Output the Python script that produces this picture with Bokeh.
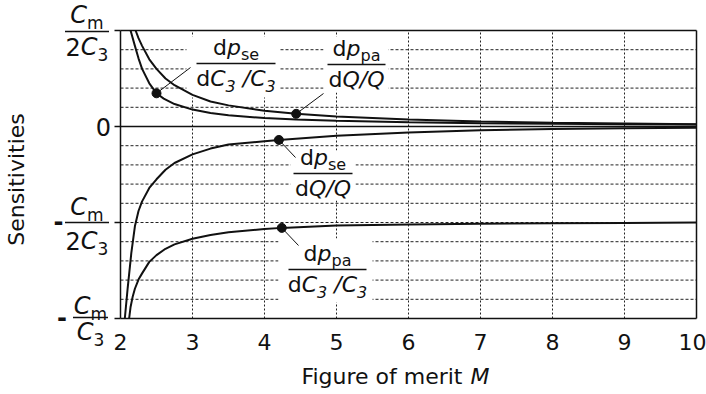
import math
from bokeh.plotting import figure
from bokeh.models import Range1d, FixedTicker, Label, Arrow
from bokeh.embed import file_html
from bokeh.resources import INLINE

# ---------------- data ----------------
# sensitivities in units of Cm/C3 versus figure of merit M
m_se_c3 = [2.14, 2.2, 2.25, 2.3, 2.4, 2.5, 2.6, 2.75, 3.0, 3.25, 3.5, 4.0, 4.44, 5.0, 6.0, 7.0, 8.0, 9.0, 10.0]
s_se_c3 = [0.50, 0.42, 0.355, 0.30, 0.225, 0.173, 0.145, 0.117, 0.088, 0.070, 0.058, 0.044, 0.037, 0.030, 0.022, 0.017, 0.014, 0.012, 0.011]

m_pa_q = [2.21, 2.25, 2.3, 2.4, 2.5, 2.625, 2.75, 3.0, 3.25, 3.5, 4.0, 4.44, 5.0, 6.0, 7.0, 8.0, 9.0, 10.0]
s_pa_q = [0.50, 0.46, 0.42, 0.35, 0.30, 0.25, 0.215, 0.165, 0.13, 0.11, 0.082, 0.066, 0.052, 0.036, 0.026, 0.019, 0.015, 0.012]

m_se_q = [2.06, 2.1, 2.15, 2.2, 2.25, 2.3, 2.4, 2.5, 2.625, 2.75, 3.0, 3.25, 3.5, 4.0, 4.2, 5.0, 6.0, 7.0, 8.0, 9.0, 10.0]
s_se_q = [-1.0, -0.84, -0.66, -0.52, -0.44, -0.39, -0.32, -0.275, -0.225, -0.19, -0.145, -0.115, -0.094, -0.077, -0.070, -0.048, -0.031, -0.020, -0.013, -0.009, -0.006]

m_pa_c3 = [2.12, 2.14, 2.17, 2.2, 2.25, 2.3, 2.4, 2.5, 2.625, 2.75, 3.0, 3.25, 3.5, 4.0, 4.24, 5.0, 6.0, 7.0, 8.0, 9.0, 10.0]
s_pa_c3 = [-1.0, -0.94, -0.885, -0.845, -0.797, -0.765, -0.705, -0.67, -0.637, -0.614, -0.585, -0.565, -0.551, -0.534, -0.528, -0.516, -0.510, -0.507, -0.504, -0.502, -0.500]

# M values at which the labelled points sit
dot_m = {"se_c3": 2.5, "pa_q": 4.44, "se_q": 4.2, "pa_c3": 4.24}

x_min, x_max = 2, 10
y_min, y_max = -1.0, 0.5
x_ticks = [2, 3, 4, 5, 6, 7, 8, 9, 10]
y_ticks = [-1.0, -0.5, 0.0, 0.5]
y_grid = [-0.9, -0.8, -0.7, -0.6, -0.5, -0.4, -0.3, -0.2, -0.1, 0.1, 0.2, 0.3, 0.4]
x_title = "Figure of merit"
x_title_var = "M"
y_title = "Sensitivities"

# ---------------- geometry / styles ----------------
FONT = "DejaVu Sans"
SIZE = 22
SUB = 16
TSIZE = 24          # y tick fractions
TSUB = 17
SUB_DROP = 5
INK = "#111111"
GRID = "#222222"
W, H = 706, 394
# plot box in page pixels: M=2 at x=120, 72 px per unit; value 0 at y=126, 192 px per unit
PX0, PXS, PY0, PYS = 120, 72.0, 126, 192.0

def X(px):          # page px -> M
    return x_min + (px - PX0) / PXS

def Y(py):          # page px -> value
    return (PY0 - py) / PYS

p = figure(width=W, height=H, x_range=Range1d(X(0), X(W)), y_range=Range1d(Y(H), Y(0)),
           output_backend="svg", toolbar_location=None,
           min_border_left=0, min_border_right=0, min_border_top=0, min_border_bottom=0)
p.background_fill_color = "white"
p.border_fill_color = "white"
p.outline_line_color = None
p.xgrid.visible = False
p.ygrid.visible = False

# axes drawn at the box edges
p.xaxis.fixed_location = y_min
p.xaxis.bounds = (x_min, x_max)
p.xaxis.ticker = FixedTicker(ticks=x_ticks)
p.xaxis.major_tick_out = 0
p.xaxis.major_tick_in = 0
p.xaxis.minor_tick_out = 0
p.xaxis.minor_tick_in = 0
p.xaxis.axis_line_color = INK
p.xaxis.axis_line_width = 1.5
p.xaxis.major_label_text_font = FONT
p.xaxis.major_label_text_font_size = f"{SIZE}px"
p.xaxis.major_label_text_color = INK
p.xaxis.major_label_standoff = 15

p.yaxis.fixed_location = x_min
p.yaxis.bounds = (y_min, y_max)
p.yaxis.ticker = FixedTicker(ticks=y_ticks)
p.yaxis.major_tick_out = 6
p.yaxis.major_tick_in = 0
p.yaxis.minor_tick_out = 0
p.yaxis.minor_tick_in = 0
p.yaxis.major_tick_line_width = 1.5
p.yaxis.major_tick_line_color = INK
p.yaxis.axis_line_color = INK
p.yaxis.axis_line_width = 1.5
p.yaxis.major_label_overrides = {v: "" for v in y_ticks}

# grid lines, limited to the box
p.segment(x0=[t for t in x_ticks[1:-1]], x1=[t for t in x_ticks[1:-1]],
          y0=[y_min] * (len(x_ticks) - 2), y1=[y_max] * (len(x_ticks) - 2),
          line_color=GRID, line_width=1, line_dash="2 2")
p.segment(x0=[x_min] * len(y_grid), x1=[x_max] * len(y_grid), y0=y_grid, y1=y_grid,
          line_color=GRID, line_width=1, line_dash="3 2")

# ---------------- text helpers ----------------
WID = {' ': 0.318, '-': 0.361, '/': 0.337, '0': 0.636, '2': 0.636, '3': 0.636,
       'C': 0.698, 'Q': 0.787, 'M': 0.863, 'a': 0.613, 'd': 0.635, 'e': 0.615,
       'm': 0.974, 'p': 0.635, 's': 0.521}

def tw(s, size):
    return sum(WID.get(c, 0.6) for c in s) * size

def put(px, base, text, size=SIZE, italic=False, align="left", bold=False):
    cy = base - 0.35 * size          # baseline -> centre of the text box
    style = "bold" if bold else ("italic" if italic else "normal")
    p.add_layout(Label(x=X(px), y=Y(cy), text=text, text_font=FONT, text_font_size=f"{size}px",
                       text_font_style=style, text_align=align, text_baseline="middle",
                       text_color=INK))

def rich_width(parts, size, sub_size):
    return sum(tw(t, sub_size if sub else size) for t, it, sub in parts)

def rich(px, base, parts, size, sub_size):
    x = px
    for t, it, sub in parts:
        s = sub_size if sub else size
        lead = len(t) - len(t.lstrip(" "))
        x += tw(" " * lead, s)
        put(x, base + (SUB_DROP if sub else 0), t.lstrip(" "), s, it)
        x += tw(t.lstrip(" "), s)

def seg(px0, py0, px1, py1, w=1.5):
    p.add_layout(Arrow(start=None, end=None, x_start=X(px0), y_start=Y(py0),
                       x_end=X(px1), y_end=Y(py1), line_color=INK, line_width=w))

def fraction(cx, bar_y, bar_w, num, den, ng=8, dg=23, size=SIZE, sub_size=SUB):
    seg(cx - bar_w / 2, bar_y, cx + bar_w / 2, bar_y)
    rich(cx - rich_width(num, size, sub_size) / 2, bar_y - ng, num, size, sub_size)
    rich(cx - rich_width(den, size, sub_size) / 2, bar_y + dg, den, size, sub_size)

def ypx(v):
    return PY0 - v * PYS

# ---------------- white backing for in-plot labels ----------------
blocks = [(186, 279, 36, 97), (323, 388, 36, 92), (290, 355, 150, 200), (278, 372, 238, 302)]
p.quad(left=[X(b[0]) for b in blocks], right=[X(b[1]) for b in blocks],
       top=[Y(b[2]) for b in blocks], bottom=[Y(b[3]) for b in blocks],
       fill_color="white", line_color=None)

# box: zero line, top and right edges
p.segment(x0=[x_min, x_min, x_max], x1=[x_max, x_max, x_max],
          y0=[0, y_max, y_min], y1=[0, y_max, y_max], line_color=INK, line_width=1.5)

# ---------------- curves ----------------
curves = {"se_c3": (m_se_c3, s_se_c3), "pa_q": (m_pa_q, s_pa_q),
          "se_q": (m_se_q, s_se_q), "pa_c3": (m_pa_c3, s_pa_c3)}
for key, (mm, ss) in curves.items():
    p.line(mm, ss, line_color=INK, line_width=2)

dx, dy = [], []
for key, (mm, ss) in curves.items():
    i = mm.index(dot_m[key])
    dx.append(mm[i])
    dy.append(ss[i])
p.scatter(dx, dy, size=9, fill_color=INK, line_color=INK)

# leader lines: dot -> label
leader_end = {"se_c3": (190, 67), "pa_q": (323, 93), "se_q": (295, 157), "pa_c3": (298, 245)}
for key, (ex, ey) in leader_end.items():
    mm, ss = curves[key]
    i = mm.index(dot_m[key])
    p.add_layout(Arrow(start=None, end=None, x_start=mm[i], y_start=ss[i],
                       x_end=X(ex), y_end=Y(ey), line_color=INK, line_width=1))

# ---------------- annotation fractions ----------------
num_se = [("d", False, False), ("p", True, False), ("se", False, True)]
num_pa = [("d", False, False), ("p", True, False), ("pa", False, True)]
den_c3 = [("d", False, False), ("C", True, False), ("3", True, True), (" /", True, False),
          ("C", True, False), ("3", True, True)]
den_q = [("d", False, False), ("Q", True, False), ("/", True, False), ("Q", True, False)]

fraction(235.5, 63, 79, num_se, den_c3)
fraction(356, 64, 58, num_pa, den_q)
fraction(322.5, 173, 59, num_se, den_q)
fraction(327, 269, 78, num_pa, den_c3)

# ---------------- y tick labels (fractions) ----------------
num_cm = [("C", True, False), ("m", False, True)]
den_2c3 = [("2", False, False), ("C", True, False), ("3", False, True)]
den_c3t = [("C", True, False), ("3", False, True)]
for v in y_ticks:
    yb = ypx(v)
    if v == 0.5:
        fraction(86.5, yb + 1, 44, num_cm, den_2c3, ng=8, dg=24, size=TSIZE, sub_size=TSUB)
    elif v == 0.0:
        put(103, yb + 9, "0", size=TSIZE, align="center")
    elif v == -0.5:
        fraction(86.5, yb, 44, num_cm, den_2c3, ng=7, dg=27, size=TSIZE, sub_size=TSUB)
        put(58, yb + 7, "-", size=24, align="center", bold=True)
    elif v == -1.0:
        fraction(90, yb - 1, 35, num_cm, den_c3t, ng=3, dg=23, size=TSIZE, sub_size=TSUB)
        put(61.5, yb + 7, "-", size=24, align="center", bold=True)

# ---------------- axis titles ----------------
put(462, 384, x_title, align="right")
put(470, 384, x_title_var, italic=True)
p.add_layout(Label(x=X(16), y=Y(179), text=y_title, text_font=FONT, text_font_size=f"{SIZE}px",
                   text_align="center", text_baseline="middle", text_color=INK, angle=math.pi / 2))

open("out.html", "w").write(file_html(p, INLINE))
